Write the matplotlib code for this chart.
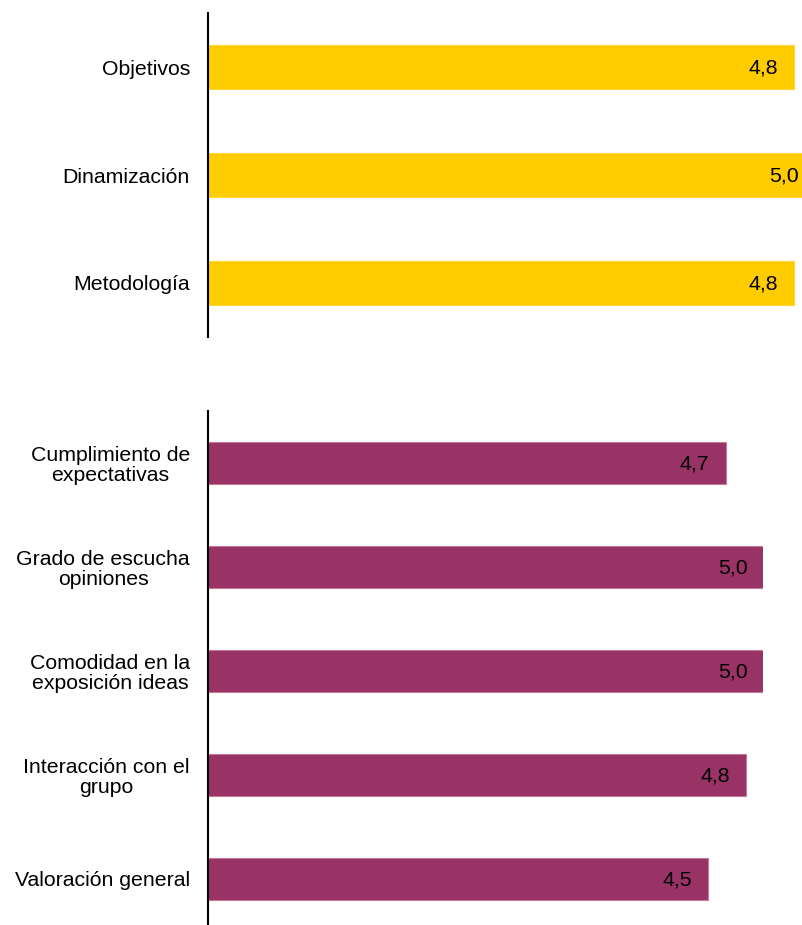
import matplotlib
matplotlib.use("Agg")
import matplotlib.pyplot as plt

plt.rcParams['font.family'] = ['Liberation Sans', 'DejaVu Sans']

top_categories = ["Objetivos", "Dinamización", "Metodología"]
top_values = [4.83, 5.0, 4.83]

bottom_categories = ["Cumplimiento de\nexpectativas", "Grado de escucha\nopiniones",
                     "Comodidad en la\nexposición ideas", "Interacción con el\ngrupo",
                     "Valoración general"]
bottom_values = [4.66, 5.0, 5.0, 4.84, 4.5]

W, H = 803, 925
fig = plt.figure(figsize=(W / 100, H / 100), dpi=100)

def px_axes(left, right, top, bottom):
    return fig.add_axes([left / W, (H - bottom) / H, (right - left) / W, (bottom - top) / H])

def draw(ax, cats, vals, color, edge, height):
    y = list(range(len(cats)))
    ax.barh(y, vals, height=height, color=color, edgecolor=edge, linewidth=0.8)
    ax.set_xlim(0, 5)
    ax.set_ylim(len(cats) - 0.5, -0.5)
    ax.set_yticks(y)
    ax.set_yticklabels(cats, fontsize=15.3, multialignment='center', linespacing=1.08)
    ax.tick_params(axis='y', length=0, pad=13)
    ax.set_xticks([])
    for s in ['top', 'right', 'bottom']:
        ax.spines[s].set_visible(False)
    ax.spines['left'].set_linewidth(1.5)
    ax.spines['left'].set_color('black')
    for yi, v in zip(y, vals):
        ax.annotate(f"{v:.1f}".replace('.', ','), xy=(v, yi), xytext=(-16, 1),
                    textcoords='offset pixels', ha='right', va='center_baseline',
                    fontsize=15.3, color='black')

ax1 = px_axes(208, 815, 13, 337)
draw(ax1, top_categories, top_values, '#FFCC00', '#FFD633', 0.405)

ax2 = px_axes(208, 763.3, 411, 931)
draw(ax2, bottom_categories, bottom_values, '#993366', '#C07A9C', 0.405)

fig.savefig("out.png", dpi=100)
